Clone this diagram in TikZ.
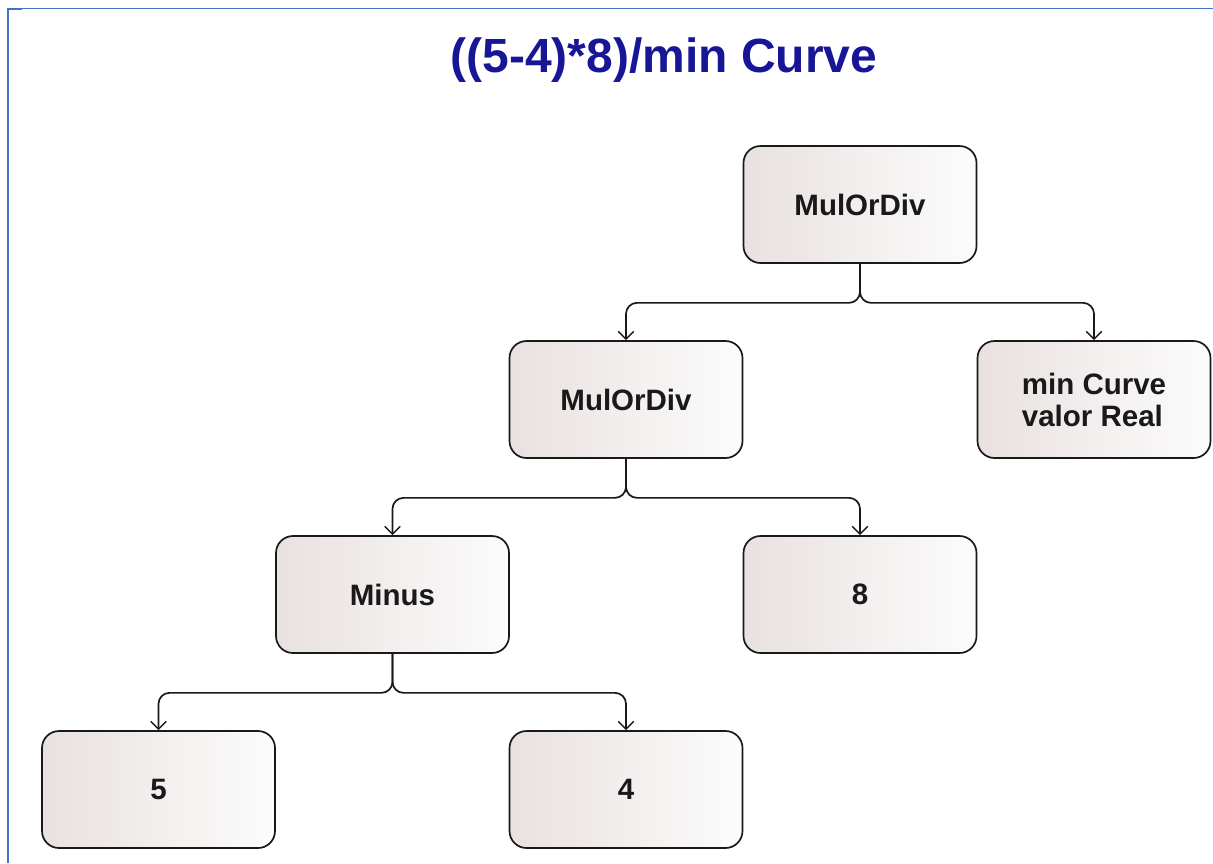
\documentclass[tikz,border=0pt]{standalone}
\usepackage{fontspec}
\setmainfont{Liberation Sans}
\usetikzlibrary{arrows.meta}
\definecolor{frameblue}{RGB}{68,114,196}
\definecolor{titleblue}{RGB}{22,22,150}
\definecolor{boxleft}{RGB}{232,225,223}
\definecolor{boxright}{RGB}{252,252,252}
\definecolor{ink}{RGB}{25,25,25}
\tikzset{
  treebox/.style={draw=ink, line width=1.7pt, rounded corners=17pt,
    left color=boxleft, right color=boxright,
    minimum width=233pt, minimum height=117pt, inner sep=0pt,
    font=\fontsize{29.5}{32}\selectfont\bfseries, text=ink, align=left},
  link/.style={draw=ink, line width=1.7pt, rounded corners=11pt,
    -{Straight Barb[angle=90:11pt, line width=1.5pt]}},
  frameline/.style={draw=frameblue, line width=2pt}
}
\begin{document}
\begin{tikzpicture}[x=1pt, y=-1pt]
\useasboundingbox (0,0) rectangle (1213,863);
% page frame
\coordinate (ftl) at (7.8,8.3);
\coordinate (ftr) at (1213,8.3);
\coordinate (fbl) at (7.8,863);
\coordinate (tick) at (22,9.6);
\draw[frameline, line width=1.5pt] (ftl) -- (ftr);
\draw[frameline, line width=2.2pt] (ftl) -- (fbl);
\draw[frameline, line width=1.6pt] (7.8,9.6) -- (tick);
% heading
\node[font=\fontsize{48}{52}\selectfont\bfseries, text=titleblue] (title) at (664,60) {((5-4)*8)/min Curve};
% expression tree
\node[treebox] (root)  at (860,204.5) {MulOrDiv};
\node[treebox] (mul)   at (626,399.5) {MulOrDiv};
\node[treebox] (minc)  at (1094,399.5) {min Curve\\valor Real};
\node[treebox] (minus) at (392.5,594.5) {Minus};
\node[treebox] (eight) at (860,594.5) {8};
\node[treebox] (five)  at (158.5,789.5) {5};
\node[treebox] (four)  at (626,789.5) {4};
% connectors: stem down, split, then drop onto each child
\foreach \p/\c in {root/mul, root/minc, mul/minus, mul/eight, minus/five, minus/four}{
  \draw[link] (\p.south) -- ++(0,39) -| (\c.north);
}
\end{tikzpicture}
\end{document}
